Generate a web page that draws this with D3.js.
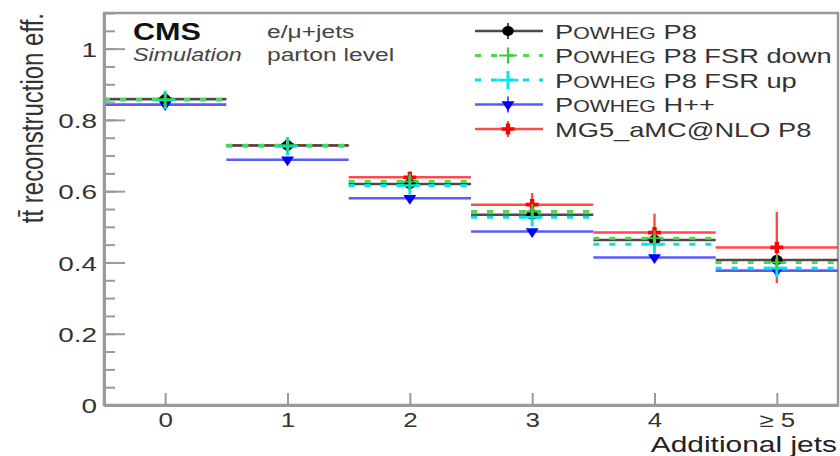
<!DOCTYPE html>
<html>
<head>
<meta charset="utf-8">
<script src="https://cdn.jsdelivr.net/npm/d3@7"></script>
<style>
  html, body { margin: 0; padding: 0; background: #fff; }
  svg { display: block; font-family: "Liberation Sans", Arial, sans-serif; }
</style>
</head>
<body>
<svg width="840" height="456"></svg>
<script>
// jet multiplicity bins
var bins = ["0", "1", "2", "3", "4", "\u2265 5"];

// reconstruction efficiency per bin, one array per sample
var powhegP8      = [0.858, 0.728, 0.620, 0.534, 0.463, 0.407];
var powhegP8Err   = [0.002, 0.003, 0.004, 0.006, 0.009, 0.012];
var fsrDown       = [0.858, 0.729, 0.627, 0.543, 0.468, 0.400];
var fsrDownErr    = [0.002, 0.003, 0.004, 0.006, 0.009, 0.012];
var fsrUp         = [0.856, 0.726, 0.616, 0.527, 0.451, 0.384];
var fsrUpErr      = [0.002, 0.003, 0.004, 0.006, 0.009, 0.012];
var herwig        = [0.843, 0.688, 0.580, 0.487, 0.414, 0.377];
var herwigErr     = [0.002, 0.003, 0.004, 0.006, 0.009, 0.012];
var amcatnlo      = [0.859, 0.729, 0.639, 0.562, 0.484, 0.442];
var amcatnloErr   = [0.004, 0.006, 0.016, 0.033, 0.053, 0.100];

var legendLabels = ["POWHEG P8", "POWHEG P8 FSR down", "POWHEG P8 FSR up", "POWHEG H++", "MG5_aMC@NLO P8"];
var yMajor = [0, 0.2, 0.4, 0.6, 0.8, 1];
var yMinor = d3.range(0, 1.1001, 0.05);

var svg = d3.select("svg"),
    margin = {top: 13, right: 2, bottom: 51, left: 104},
    width = +svg.attr("width") - margin.left - margin.right,
    height = +svg.attr("height") - margin.top - margin.bottom;

// the whole figure is drawn with horizontally widened lettering
var SX = 1.33;
function stretch(x, y) { return "translate(" + x + "," + y + ") scale(" + SX + ",1)"; }

var x = d3.scaleLinear().domain([-0.5, 5.5]).range([margin.left, margin.left + width]),
    y = d3.scaleLinear().domain([0, 1.1]).range([margin.top + height, margin.top]);

var axisGray = "#9a9a9a", textGray = "#333";

// style for each sample, in drawing order (legend order is separate)
var series = [
  {key: "herwig",  vals: herwig,    errs: herwigErr,    line: "#5a5aff", mark: "#0000ff", dash: null,  lw: 2.6, sym: "tri",    legend: 3},
  {key: "amc",     vals: amcatnlo,  errs: amcatnloErr,  line: "#ff4a4a", mark: "#ff0000", dash: null,  lw: 2.4, sym: "cross",  legend: 4},
  {key: "p8",      vals: powhegP8,  errs: powhegP8Err,  line: "#4a4a4a", mark: "#000000", dash: null,  lw: 2.4, sym: "circle", legend: 0},
  {key: "fsrup",   vals: fsrUp,     errs: fsrUpErr,     line: "#00e0ea", mark: "#00e8f0", dash: "6,10", lw: 3,  sym: "plusB",  legend: 2},
  {key: "fsrdown", vals: fsrDown,   errs: fsrDownErr,   line: "#4ed84e", mark: "#3ccc3c", dash: "6,10", lw: 3,  sym: "plus",   legend: 1}
];

function drawMarker(g, s, cx, cy) {
  var m = g.append("g").attr("transform", "translate(" + cx + "," + cy + ") scale(1.15,1)");
  if (s.sym === "circle") {
    m.append("circle").attr("r", 5).attr("fill", s.mark);
  } else if (s.sym === "tri") {
    m.append("path").attr("d", d3.symbol(d3.symbolTriangle, 55)())
      .attr("transform", "rotate(180)").attr("fill", s.mark);
  } else if (s.sym === "cross") {
    m.append("path").attr("d", d3.symbol(d3.symbolCross, 70)()).attr("fill", s.mark);
  } else {
    var big = s.sym === "plusB";
    m.append("path").attr("d", d3.symbol(d3.symbolPlus, big ? 110 : 80)())
      .attr("fill", "none").attr("stroke", s.mark).attr("stroke-width", big ? 2.6 : 1.8);
  }
}

// frame
svg.append("rect")
    .attr("x", margin.left).attr("y", margin.top)
    .attr("width", width).attr("height", height)
    .attr("fill", "none").attr("stroke", axisGray).attr("stroke-width", 2.5);

// bins: horizontal bar, vertical error, marker
var plot = svg.append("g");
series.forEach(function(s) {
  var g = plot.append("g").attr("class", s.key);
  g.selectAll("line.h")
    .data(s.vals)
    .enter().append("line")
      .attr("class", "h")
      .attr("x1", function(d, i) { return x(i - 0.5); })
      .attr("x2", function(d, i) { return x(i + 0.5); })
      .attr("y1", function(d) { return y(d); })
      .attr("y2", function(d) { return y(d); })
      .attr("stroke", s.line)
      .attr("stroke-width", s.lw)
      .attr("stroke-dasharray", s.dash);
  g.selectAll("line.v")
    .data(s.vals)
    .enter().append("line")
      .attr("class", "v")
      .attr("x1", function(d, i) { return x(i); })
      .attr("x2", function(d, i) { return x(i); })
      .attr("y1", function(d, i) { return y(d - s.errs[i]); })
      .attr("y2", function(d, i) { return y(d + s.errs[i]); })
      .attr("stroke", s.line)
      .attr("stroke-width", 2.4);
});
series.forEach(function(s) {
  var g = plot.append("g");
  s.vals.forEach(function(v, i) { drawMarker(g, s, x(i), y(v)); });
});

// y axis: major + minor ticks pointing inward
var yAxisG = svg.append("g")
    .attr("transform", "translate(" + margin.left + ",0)")
    .call(d3.axisLeft(y).tickValues(yMajor).tickSize(-21).tickSizeOuter(0).tickFormat(d3.format("~g")));
svg.append("g")
    .attr("transform", "translate(" + margin.left + ",0)")
    .call(d3.axisLeft(y).tickValues(yMinor).tickSize(-11).tickSizeOuter(0).tickFormat(""))
    .call(function(g) { g.select(".domain").remove(); });

yAxisG.selectAll("text")
    .attr("x", null).attr("dy", "0.36em")
    .attr("transform", stretch(-7, 0))
    .attr("font-size", 21).attr("fill", textGray);

// x axis: ticks at bin centres
var xAxisG = svg.append("g")
    .attr("transform", "translate(0," + (margin.top + height) + ")")
    .call(d3.axisBottom(x).tickValues(d3.range(bins.length)).tickSize(-12).tickSizeOuter(0)
      .tickFormat(function(i) { return bins[i]; }));
xAxisG.selectAll("text")
    .attr("y", null).attr("dy", null)
    .attr("transform", stretch(0, 22))
    .attr("font-size", 19.5).attr("fill", textGray);

svg.selectAll(".domain").attr("stroke", axisGray).attr("stroke-width", 3);
svg.selectAll(".tick line").attr("stroke", axisGray).attr("stroke-width", 2);

// axis titles
svg.append("text")
    .attr("transform", "translate(43,13) scale(" + SX + ",1) rotate(-90)")
    .attr("text-anchor", "end")
    .attr("font-size", 24).attr("fill", textGray)
    .text("tt\u0304 reconstruction eff.");

svg.append("text")
    .attr("transform", stretch(837, 452))
    .attr("text-anchor", "end")
    .attr("font-size", 22.5).attr("fill", "#222")
    .text("Additional jets");

// CMS label block
svg.append("text").attr("transform", stretch(133, 40))
    .attr("font-size", 23).attr("font-weight", "bold").attr("fill", "#111").text("CMS");
svg.append("text").attr("transform", stretch(133, 61))
    .attr("font-size", 17.5).attr("font-style", "italic").attr("fill", "#444").text("Simulation");
svg.append("text").attr("transform", stretch(267, 38))
    .attr("font-size", 18.5).attr("fill", "#444").text("e/\u03bc+jets");
svg.append("text").attr("transform", stretch(267, 61))
    .attr("font-size", 18.5).attr("fill", "#444").text("parton level");

// legend
var legendRow = d3.scaleLinear().domain([0, 4]).range([31, 129]);
var legend = svg.append("g");
series.forEach(function(s) {
  var cy = legendRow(s.legend);
  var row = legend.append("g");
  row.append("line")
      .attr("x1", 475).attr("x2", 543).attr("y1", cy).attr("y2", cy)
      .attr("stroke", s.line).attr("stroke-width", s.lw)
      .attr("stroke-dasharray", s.dash);
  row.append("line")
      .attr("x1", 508).attr("x2", 508).attr("y1", cy - 8).attr("y2", cy + 8)
      .attr("stroke", s.line).attr("stroke-width", 2);
  drawMarker(row, s, 508, cy);

  var label = legendLabels[s.legend];
  var t = row.append("text")
      .attr("transform", stretch(555, cy + 7.5))
      .attr("font-size", 20.5).attr("fill", textGray);
  if (label.indexOf("POWHEG") === 0) {
    t.append("tspan").text("P");
    t.append("tspan").attr("font-size", 16).text("OWHEG");
    t.append("tspan").text(label.slice(6));
  } else {
    t.text(label);
  }
});
</script>
</body>
</html>
